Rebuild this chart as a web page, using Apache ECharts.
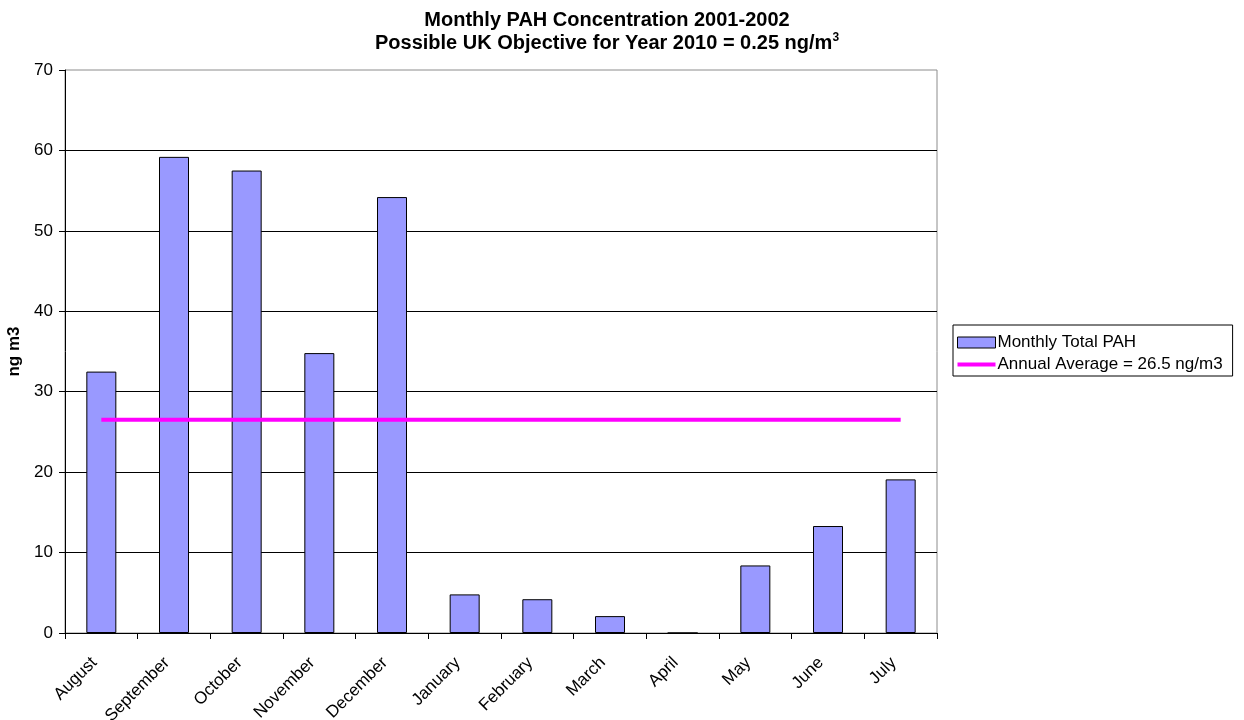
<!DOCTYPE html>
<html>
<head>
    <meta charset="utf-8">
    <title>ECharts</title>
    <script src="https://cdn.jsdelivr.net/npm/echarts@6/dist/echarts.min.js"></script>
</head>
<body style="margin:0;background:#fff">
<div id="main" style="width: 1244px;height:720px;"></div>
<script>
    // data
    var months = ['August', 'September', 'October', 'November', 'December', 'January',
        'February', 'March', 'April', 'May', 'June', 'July'];
    var totalPah = [32.5, 59.2, 57.5, 34.8, 54.2, 4.8, 4.2, 2.1, 0, 8.4, 13.3, 19.1];
    var annualAvg = [26.5, 26.5, 26.5, 26.5, 26.5, 26.5, 26.5, 26.5, 26.5, 26.5, 26.5, 26.5];
    var yTicks = [0, 10, 20, 30, 40, 50, 60, 70];

    var myChart = echarts.init(document.getElementById('main'));
    var font = 'Liberation Sans, Arial, sans-serif';

    var option = {
        animation: false,
        backgroundColor: '#fff',
        title: {
            text: 'Monthly PAH Concentration 2001-2002\n{b|Possible UK Objective for Year 2010 = 0.25 ng/m}{s|3}',
            left: 607,
            textAlign: 'center',
            top: 9,
            padding: 0,
            textStyle: {
                fontFamily: font, fontSize: 20, fontWeight: 'bold', color: '#000', lineHeight: 23,
                rich: {
                    b: {fontFamily: font, fontSize: 20, fontWeight: 'bold', color: '#000', lineHeight: 23},
                    s: {fontFamily: font, fontSize: 12, fontWeight: 'bold', color: '#000', verticalAlign: 'top', padding: [0, 0, 12, 0]}
                }
            }
        },
        legend: {
            orient: 'vertical',
            left: 953,
            top: 325,
            itemGap: 5,
            padding: [9, 10, 3, 4],
            borderColor: '#000',
            borderWidth: 1,
            itemWidth: 38,
            itemHeight: 11,
            textStyle: {fontFamily: font, fontSize: 17, color: '#000', padding: [0, 0, 0, -3]},
            data: [
                {name: 'Monthly Total PAH', icon: 'rect', itemStyle: {color: '#9999ff', borderColor: '#000', borderWidth: 1}},
                {name: 'Annual Average = 26.5 ng/m3', icon: 'path://M0,0 L38,0 L38,4 L0,4 Z', itemStyle: {color: '#ff00ff', borderWidth: 0}}
            ]
        },
        grid: {
            left: 65, right: 307, top: 70, bottom: 87,
            outerBoundsMode: 'none',
            containLabel: false,
            show: true, borderColor: '#8c8c8c', borderWidth: 1
        },
        xAxis: {
            type: 'category',
            data: months,
            axisLine: {lineStyle: {color: '#000', width: 1}},
            axisTick: {show: true, length: 6, lineStyle: {color: '#000'}},
            axisLabel: {rotate: 45, fontFamily: font, fontSize: 17, color: '#000', margin: 20, padding: [0, 10, 8, 0]},
            splitLine: {show: false}
        },
        yAxis: {
            type: 'value',
            min: yTicks[0],
            max: yTicks[yTicks.length - 1],
            interval: 10,
            name: 'ng m3',
            nameLocation: 'middle',
            nameGap: 37,
            nameTextStyle: {fontFamily: font, fontSize: 17, fontWeight: 'bold', color: '#000'},
            axisLine: {show: true, lineStyle: {color: '#000'}},
            axisTick: {show: true, length: 6, lineStyle: {color: '#000'}},
            axisLabel: {fontFamily: font, fontSize: 17, color: '#000', margin: 12},
            splitLine: {show: true, showMaxLine: false, lineStyle: {color: '#000', width: 1}}
        },
        series: [
            {
                name: 'Monthly Total PAH',
                type: 'bar',
                data: totalPah,
                barWidth: 30,
                itemStyle: {color: '#9999ff', borderColor: '#000', borderWidth: 1}
            },
            {
                name: 'Annual Average = 26.5 ng/m3',
                type: 'line',
                data: annualAvg,
                symbol: 'none',
                lineStyle: {color: '#ff00ff', width: 4},
                itemStyle: {color: '#ff00ff'}
            }
        ]
    };
    myChart.setOption(option);
</script>
</body>
</html>
